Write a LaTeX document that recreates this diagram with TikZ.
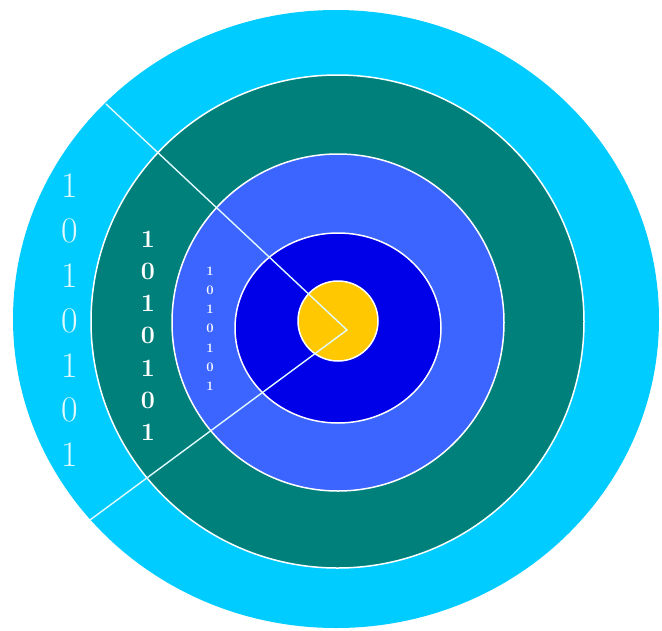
\documentclass[tikz,border=0pt]{standalone}
\usepackage{tikz}
\definecolor{outercyan}{RGB}{0,204,255}
\definecolor{ringteal}{RGB}{0,128,122}
\definecolor{ringblue}{RGB}{60,100,255}
\definecolor{coreblue}{RGB}{0,0,232}
\definecolor{bullyellow}{RGB}{255,200,0}
\definecolor{paletext}{RGB}{225,250,255}

\begin{document}
\begin{tikzpicture}[x=1pt, y=-1pt,
    ring/.style={draw=white, line width=1.5pt},
    ray/.style={draw=paletext, line width=1.4pt, line cap=round},
    bigbit/.style={text=paletext, inner sep=0pt, font=\fontsize{36}{36}\selectfont},
    midbit/.style={text=white, inner sep=0pt, font=\fontsize{25}{25}\selectfont\bfseries},
    tinybit/.style={text=white, inner sep=0pt, font=\fontsize{13}{13}\selectfont\bfseries},
]
  \useasboundingbox (0,0) rectangle (662,630);

  % Target rings, outside in
  \fill[outercyan] (336,319) ellipse [x radius=323, y radius=309];
  \path[ring, fill=ringteal] (337.5,321.5) ellipse [x radius=246.5, y radius=246.5];
  \path[ring, fill=ringblue] (338,322.5) ellipse [x radius=166, y radius=168.5];
  \path[ring, fill=coreblue] (338,328) ellipse [x radius=103, y radius=95];
  \path[ring, fill=bullyellow] (338,321) circle [radius=40];

  % Wedge rays
  \coordinate (rayTop) at (106,104);
  \coordinate (rayTip) at (347,330);
  \coordinate (rayBot) at (90,520);
  \draw[ray] (rayTop) -- (rayTip) -- (rayBot);

  % Bit columns
  \foreach \b [count=\i from 0] in {1,0,1,0,1,0,1} {
    \node[bigbit] (big\i) at (70, 186+44.8*\i) {\b};
    \node[midbit] (mid\i) at (148, 239+32.2*\i) {\b};
    \node[tinybit] (tiny\i) at (210, 271+19.2*\i) {\b};
  }
\end{tikzpicture}
\end{document}
